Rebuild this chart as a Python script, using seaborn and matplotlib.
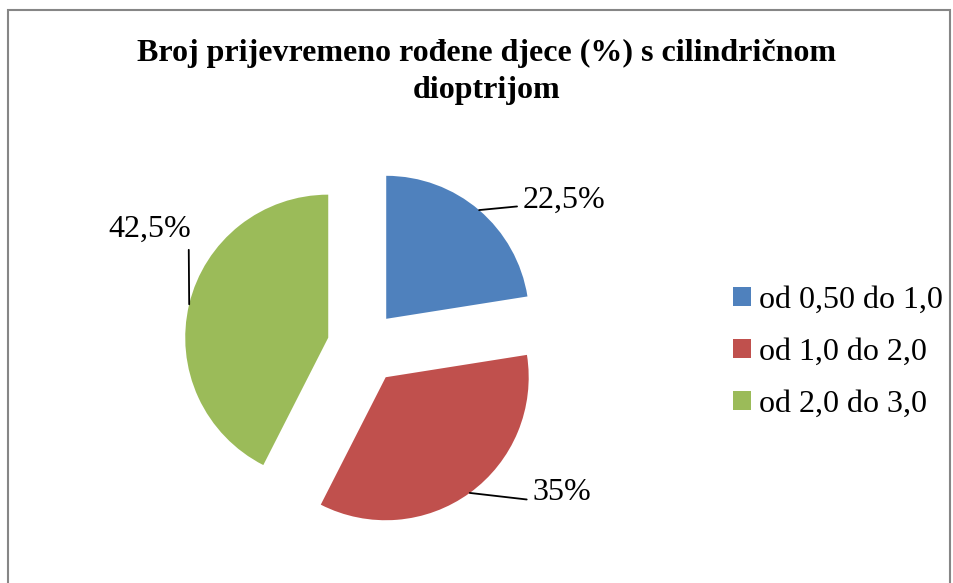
import matplotlib
matplotlib.use("Agg")
import matplotlib.pyplot as plt
from matplotlib.patches import Rectangle
import numpy as np
import seaborn as sns

title = "Broj prijevremeno rođene djece (%) s cilindričnom\ndioptrijom"
categories = ["od 0,50 do 1,0", "od 1,0 do 2,0", "od 2,0 do 3,0"]
shares = [22.5, 35.0, 42.5]
value_labels = ["22,5%", "35%", "42,5%"]
colors = ["#4F81BD", "#C0504D", "#9BBB59"]

sns.set_theme(style="white")
plt.rcParams["font.family"] = ["Liberation Serif", "DejaVu Serif"]
plt.rcParams["text.color"] = "black"

fig = plt.figure(figsize=(9.54, 5.83), dpi=100)
ax = fig.add_axes([163 / 954, 37 / 583, 400 / 954, 400 / 583])
wedges, _ = ax.pie(
    shares,
    colors=colors,
    startangle=90,
    counterclock=False,
    explode=[0.25, 0.27, 0.25],
    radius=1,
    wedgeprops=dict(linewidth=0),
)
lim = 200 / 143
ax.set_xlim(-lim, lim)
ax.set_ylim(-lim, lim)
ax.set_aspect("equal")
ax.axis("off")

# label placement: (offset in pixels, ha, relpos of leader line on the text)
label_style = [
    ((44, 10), "left", (0.0, 0.3)),
    ((63, 0), "left", (0.0, 0.25)),
    ((2, 75), "right", (0.97, 0.0)),
]
for w, txt, (off, ha, rel) in zip(wedges, value_labels, label_style):
    mid = np.deg2rad((w.theta1 + w.theta2) / 2)
    cx, cy = w.center
    anchor = (cx + w.r * np.cos(mid), cy + w.r * np.sin(mid))
    ax.annotate(
        txt, xy=anchor, xytext=off, textcoords="offset pixels",
        ha=ha, va="center", fontsize=23, color="black",
        arrowprops=dict(arrowstyle="-", color="black", lw=1.3,
                        shrinkA=2, shrinkB=0, relpos=rel),
    )

fig.legend(
    wedges, categories,
    loc="center left", bbox_to_anchor=(733 / 954, 1 - 352 / 583),
    frameon=False, fontsize=23, borderpad=0, borderaxespad=0,
    handlelength=0.55, handleheight=0.55, handletextpad=0.25,
    labelspacing=0.72,
)

fig.text(487 / 954, 1 - 72 / 583, title, ha="center", va="center",
         fontsize=23, fontweight="bold", linespacing=1.38)

fig.patches.append(Rectangle((8 / 954, -0.1), 942 / 954, 1.1 - 10 / 583,
                             transform=fig.transFigure, fill=False,
                             edgecolor="#868686", lw=1.5))

fig.savefig("out.png", dpi=100)
